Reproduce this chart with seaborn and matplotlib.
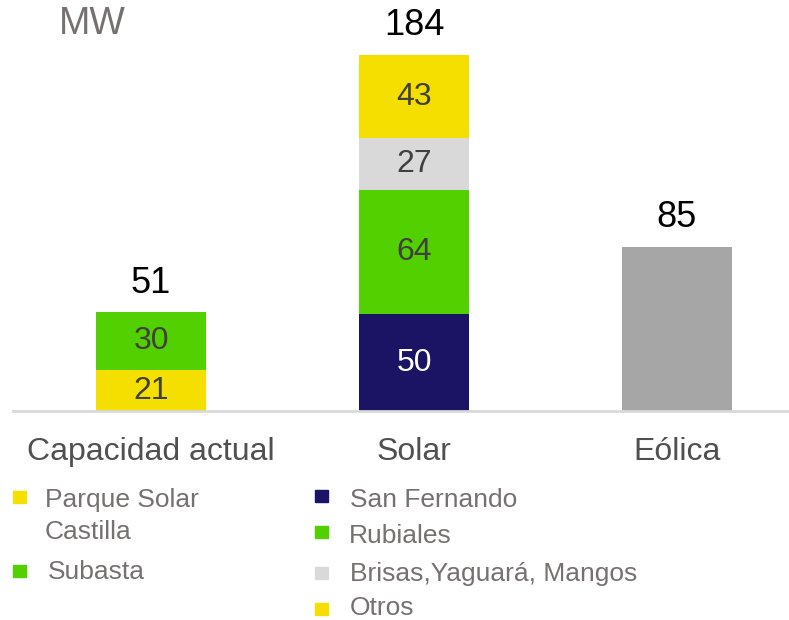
import matplotlib
matplotlib.use("Agg")
import matplotlib.pyplot as plt
import seaborn as sns
import pandas as pd
from matplotlib.patches import Rectangle

sns.set_theme(style="white")
plt.rcParams['font.family'] = ['Liberation Sans', 'DejaVu Sans']

# ---- data ----
categories = ["Capacidad actual", "Solar", "Eólica"]
seg_category = ["Capacidad actual", "Capacidad actual", "Solar", "Solar", "Solar", "Solar", "Eólica"]
seg_name = ["Parque Solar\nCastilla", "Subasta", "San Fernando", "Rubiales",
            "Brisas,Yaguará, Mangos", "Otros", "Eólica"]
seg_value = [21, 30, 50, 64, 27, 43, 85]
totals = [51, 184, 85]
unit_label = "MW"

seg_colors = ["#F5DF00", "#52D000", "#1B1464", "#52D000", "#D9D9D9", "#F5DF00", "#A6A6A6"]
seg_text_colors = ["#404040", "#404040", "#FFFFFF", "#404040", "#404040", "#404040", None]

df = pd.DataFrame({"cat": seg_category, "seg": seg_name, "value": seg_value,
                   "color": seg_colors, "tcolor": seg_text_colors})
df["bottom"] = df.groupby("cat")["value"].cumsum() - df["value"]

W, H = 789, 620
fig = plt.figure(figsize=(W / 100, H / 100), dpi=100)
ax = fig.add_axes([13 / W, (H - 411) / H, (W - 13) / W, (411 - 55) / H])

for _, r in df.iterrows():
    sub = pd.DataFrame({"cat": [r["cat"]], "value": [r["value"]]})
    sns.barplot(data=sub, x="cat", y="value", order=categories, color=r["color"],
                bottom=r["bottom"], width=0.415, saturation=1, linewidth=0, ax=ax)
    if r["tcolor"] is not None:
        xi = categories.index(r["cat"])
        ax.text(xi, r["bottom"] + r["value"] / 2, f"{r['value']}", ha="center", va="center",
                fontsize=23, color=r["tcolor"])

for xi, t in enumerate(totals):
    ax.text(xi, t + 6, f"{t}", ha="center", va="bottom", fontsize=26, color="black")

ax.set_xlim(-0.525, 2.426)
ax.set_ylim(0, 184)
ax.set_xlabel("")
ax.set_ylabel("")
ax.set_yticks([])
ax.tick_params(axis="x", length=0, labelsize=23, labelcolor="#505050", pad=19)
for s in ["top", "right", "left"]:
    ax.spines[s].set_visible(False)
ax.spines["bottom"].set_color("#D9D9D9")
ax.spines["bottom"].set_linewidth(2)

fig.text(59 / W, 1 - 24 / H, unit_label, ha="left", va="center", fontsize=27, color="#767171")

# ---- legend (two columns) ----
leg_color = "#767171"
def legend_entry(mx, my, tx, ty, color, label):
    fig.patches.append(Rectangle((mx / W, 1 - (my + 6) / H), 13 / W, 12 / H,
                                 transform=fig.transFigure, color=color, figure=fig))
    fig.text(tx / W, 1 - ty / H, label, ha="left", va="center", fontsize=19,
             color=leg_color)

legend_entry(13, 497, 45, 500, seg_colors[0], "Parque Solar")
fig.text(45 / W, 1 - 532 / H, "Castilla", ha="left", va="center", fontsize=19, color=leg_color)
legend_entry(13, 571, 48, 572, seg_colors[1], seg_name[1])
legend_entry(315, 496, 350, 500, seg_colors[2], seg_name[2])
legend_entry(315, 532, 349, 536, seg_colors[3], seg_name[3])
legend_entry(315, 573, 350, 574, seg_colors[4], seg_name[4])
legend_entry(315, 609, 350, 608, seg_colors[5], seg_name[5])

fig.savefig("out.png", dpi=100)
